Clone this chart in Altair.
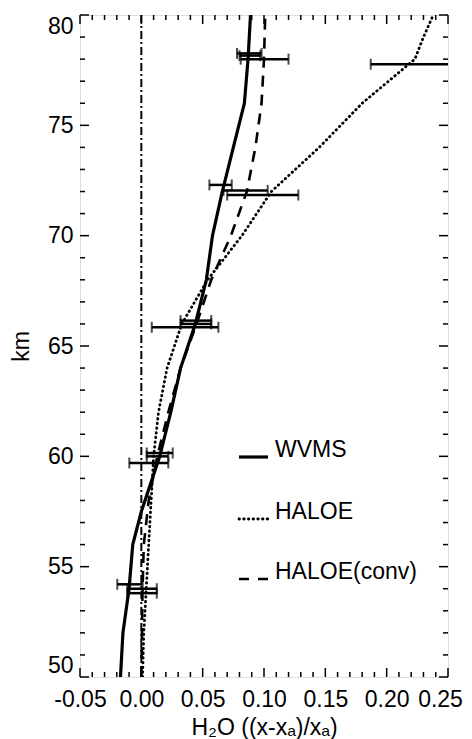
import altair as alt
import pandas as pd

FONT = "Liberation Sans"
FS = 23
W, H = 368, 662

# ---- profiles (km, fractional change) ----
wvms_km = [50, 52, 54, 56, 57.5, 60, 62, 64, 66, 68, 70, 72, 74, 76, 78, 80]
wvms_x = [-0.017, -0.015, -0.010, -0.007, 0.000, 0.015, 0.024, 0.032, 0.044,
          0.053, 0.058, 0.066, 0.075, 0.084, 0.087, 0.089]

haloe_km = [50, 52, 54, 56, 58, 60, 62, 64, 66, 68, 70, 72, 74, 76, 78, 79, 80]
haloe_x = [0.001, 0.002, 0.004, 0.006, 0.008, 0.010, 0.014, 0.021, 0.033,
           0.054, 0.082, 0.106, 0.145, 0.180, 0.223, 0.230, 0.238]

conv_km = [50, 52, 54, 56, 58, 60, 62, 64, 66, 68, 70, 72, 74, 76, 78, 80]
conv_x = [0.000, 0.0005, 0.001, 0.002, 0.006, 0.013, 0.022, 0.032, 0.045,
          0.057, 0.073, 0.086, 0.093, 0.098, 0.100, 0.101]

# ---- error bars ----
err_km = [78.26, 78.16, 78.0, 77.77,
          72.3, 72.05, 71.84,
          66.15, 66.0, 65.85,
          60.15, 60.0, 59.7,
          54.2, 54.0, 53.8]
err_lo = [0.078, 0.080, 0.081, 0.187,
          0.0555, 0.067, 0.070,
          0.032, 0.032, 0.0085,
          0.0044, 0.0044, -0.0098,
          -0.0196, -0.0114, -0.0114]
err_hi = [0.098, 0.097, 0.120, 0.300,
          0.0737, 0.103, 0.128,
          0.057, 0.057, 0.0628,
          0.0256, 0.022, 0.022,
          0.0011, 0.0126, 0.0126]

# ---- ticks ----
x_major = [-0.05, 0.0, 0.05, 0.10, 0.15, 0.20, 0.25]
x_minor = [-0.04, -0.03, -0.02, -0.01, 0.01, 0.02, 0.03, 0.04, 0.06, 0.07, 0.08,
           0.09, 0.11, 0.12, 0.13, 0.14, 0.16, 0.17, 0.18, 0.19, 0.21, 0.22,
           0.23, 0.24]
y_major = [50, 55, 60, 65, 70, 75, 80]
y_minor = [51, 52, 53, 54, 56, 57, 58, 59, 61, 62, 63, 64, 66, 67, 68, 69,
           71, 72, 73, 74, 76, 77, 78, 79]
ref_x = [0.0]

legend_labels = ["WVMS", "HALOE", "HALOE(conv)"]

xs = alt.Scale(domain=[-0.05, 0.25], nice=False, zero=False)
ys = alt.Scale(domain=[50, 80], nice=False, zero=False)

xaxis = alt.Axis(values=x_major, labelExpr="replace(format(datum.value, '.2f'), '\u2212', '-')",
                 labelFontSize=FS, labelFont=FONT, labelColor="black",
                 labelOverlap=False, labelBound=False, labelFlush=False,
                 labelOffset={"condition": {"test": "datum.value > 0.249", "value": -8},
                              "value": 0},
                 ticks=False, tickSize=0, domain=False, grid=False, labelPadding=11,
                 title="H\u2082O ((x-x\u2090)/x\u2090)", titleFontSize=FS, titleFont=FONT,
                 titleFontWeight="normal", titleColor="black", titlePadding=5)
yaxis = alt.Axis(values=y_major, format="d", labelFontSize=FS, labelFont=FONT,
                 labelColor="black", ticks=False, tickSize=0, domain=False, grid=False,
                 labelPadding=7, labelFlush=True, labelOverlap=False,
                 title="km", titleFontSize=FS, titleFont=FONT, titleFontWeight="normal",
                 titleColor="black", titlePadding=14)

X = lambda f: alt.X(f, type="quantitative", scale=xs, axis=xaxis)
Y = lambda f: alt.Y(f, type="quantitative", scale=ys, axis=yaxis)

dw = pd.DataFrame({"km": wvms_km, "x": wvms_x})
dh = pd.DataFrame({"km": haloe_km, "x": haloe_x})
dc = pd.DataFrame({"km": conv_km, "x": conv_x})
de = pd.DataFrame({"km": err_km, "lo": err_lo, "hi": err_hi})

DOT = dict(strokeWidth=2.8, strokeDash=[0.5, 4.2], strokeCap="round")
DASH = dict(strokeWidth=2.6, strokeDash=[11, 8])

layers = []

# reference dash-dot line
layers.append(alt.Chart(pd.DataFrame({"x": ref_x})).mark_rule(
    color="black", strokeWidth=2, strokeDash=[8, 3, 2, 3]).encode(x=X("x")))

layers.append(alt.Chart(dh).mark_line(color="black", clip=True, **DOT).encode(
    x=X("x"), y=Y("km"), order="km:Q"))
layers.append(alt.Chart(dc).mark_line(color="black", clip=True, **DASH).encode(
    x=X("x"), y=Y("km"), order="km:Q"))
layers.append(alt.Chart(dw).mark_line(color="black", strokeWidth=3.2,
              clip=True).encode(x=X("x"), y=Y("km"), order="km:Q"))

# error bars
layers.append(alt.Chart(de).mark_rule(color="black", strokeWidth=2.5, clip=True).encode(
    x=X("lo"), x2="hi", y=Y("km")))
for f in ["lo", "hi"]:
    layers.append(alt.Chart(de).mark_tick(color="black", orient="vertical", size=11,
                  thickness=2, clip=True).encode(x=X(f), y=Y("km")))

# inward ticks on all four sides
for vals, ln in [(x_major, 9), (x_minor, 5)]:
    d = pd.DataFrame({"t": vals})
    layers.append(alt.Chart(d).mark_rule(color="black", strokeWidth=1.5).encode(
        x=X("t"), y=alt.value(H), y2=alt.value(H - ln)))
    layers.append(alt.Chart(d).mark_rule(color="black", strokeWidth=1.5).encode(
        x=X("t"), y=alt.value(0), y2=alt.value(ln)))
for vals, ln in [(y_major, 9), (y_minor, 5)]:
    d = pd.DataFrame({"t": vals})
    layers.append(alt.Chart(d).mark_rule(color="black", strokeWidth=1.5).encode(
        y=Y("t"), x=alt.value(0), x2=alt.value(ln)))
    layers.append(alt.Chart(d).mark_rule(color="black", strokeWidth=1.5).encode(
        y=Y("t"), x=alt.value(W), x2=alt.value(W - ln)))

# legend
one = pd.DataFrame({"a": [0]})
leg_y = [442, 504, 564]
leg_styles = [dict(strokeWidth=3.2), DOT, dict(strokeWidth=2.6, strokeDash=[10, 9])]
for lab, yy, st in zip(legend_labels, leg_y, leg_styles):
    layers.append(alt.Chart(one).mark_rule(color="black", **st).encode(
        x=alt.value(159), x2=alt.value(188), y=alt.value(yy)))
    layers.append(alt.Chart(one).mark_text(align="left", baseline="alphabetic",
                  fontSize=FS, font=FONT, color="black").encode(
        x=alt.value(195), y=alt.value(yy), text=alt.value(lab)))

chart = alt.layer(*layers).properties(
    width=W, height=H,
    autosize=alt.AutoSizeParams(type="none"),
    padding={"left": 72, "top": 7, "right": 16, "bottom": 62},
).configure_view(stroke="black", strokeWidth=2).configure(background="white")

chart.save("out.html", embed_options={"renderer": "svg", "actions": False})
